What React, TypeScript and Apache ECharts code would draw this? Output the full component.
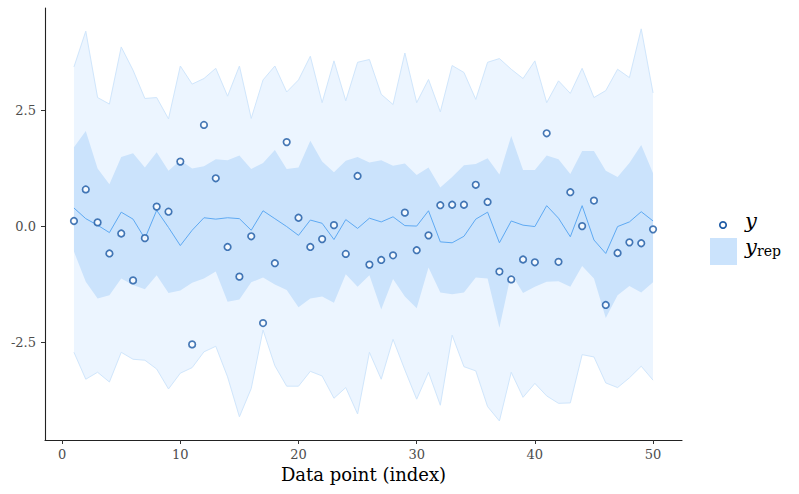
import React, { useEffect, useRef } from 'react';
import * as echarts from 'echarts';

// data point index 1..50
const idx = Array.from({ length: 50 }, (_, i) => i + 1);

// 90% interval of y_rep
const outerHi = [
  3.43, 4.2, 2.77, 2.63, 3.86, 3.36, 2.75, 2.77, 2.31, 3.45,
  3.06, 3.18, 3.4, 2.8, 3.45, 2.32, 3.15, 3.45, 2.89, 3.15,
  3.66, 2.66, 3.56, 2.7, 3.53, 3.59, 2.84, 2.62, 3.73, 2.66,
  3.16, 2.46, 3.46, 3.31, 2.73, 3.53, 3.61, 3.38, 3.18, 3.56,
  2.66, 3.13, 2.86, 3.4, 2.77, 2.92, 3.38, 3.2, 4.25, 2.87
];
const outerLo = [
  -2.72, -3.3, -3.15, -3.36, -2.72, -2.87, -2.89, -3.08, -3.51, -3.17,
  -3.05, -2.71, -2.59, -3.25, -4.11, -3.5, -2.24, -3.01, -3.45, -3.45,
  -3.13, -3.23, -3.71, -3.48, -4.05, -2.72, -3.3, -2.44, -3.1, -3.73,
  -3.15, -3.86, -2.35, -3.03, -3.12, -3.89, -4.2, -3.15, -3.69, -3.39,
  -3.66, -3.82, -3.81, -2.77, -2.82, -3.38, -3.48, -3.27, -3.02, -3.32
];

// 50% interval of y_rep
const innerHi = [
  1.7, 2.05, 1.24, 0.9, 1.49, 1.57, 1.26, 1.59, 1.19, 1.42,
  1.24, 1.29, 1.44, 1.42, 1.52, 1.23, 1.36, 1.64, 1.23, 1.26,
  1.84, 1.39, 1.16, 1.41, 1.49, 1.37, 1.42, 1.3, 1.35, 1.1,
  1.26, 0.83, 1.06, 1.31, 1.34, 1.46, 1.11, 1.94, 1.21, 1.21,
  1.52, 1.44, 1.12, 1.62, 1.62, 1.19, 1.06, 1.36, 1.75, 1.14
];
const innerLo = [
  -0.55, -1.2, -1.56, -1.49, -1.13, -1.27, -1.36, -1.06, -1.44, -1.39,
  -1.22, -1.13, -0.98, -1.63, -1.58, -1.21, -1.11, -1.26, -1.38, -1.75,
  -1.56, -1.52, -1.65, -1.04, -1.31, -1.06, -1.8, -1.14, -1.52, -1.77,
  -0.89, -1.43, -1.47, -1.43, -1.11, -1.13, -2.19, -1.02, -1.44, -1.31,
  -1.2, -1.19, -1.31, -0.86, -1.13, -1.98, -1.49, -1.29, -1.43, -1.21
];

// median of y_rep
const median = [
  0.39, 0.16, 0.02, -0.14, 0.3, 0.15, -0.27, 0.34, -0.03, -0.42,
  -0.09, 0.18, 0.15, 0.18, 0.16, -0.09, 0.33, 0.16, -0.01, -0.2,
  0.13, 0.06, -0.29, 0.14, -0.05, 0.17, 0.09, 0.2, 0.01, 0.0,
  0.33, -0.34, -0.36, -0.22, 0.15, 0.3, -0.36, 0.11, 0.02, -0.01,
  0.44, 0.17, -0.23, 0.44, -0.3, -0.59, -0.01, 0.09, 0.31, 0.11
];

// observed y
const yObs = [
  0.11, 0.79, 0.08, -0.59, -0.16, -1.17, -0.26, 0.42, 0.31, 1.39,
  -2.55, 2.18, 1.03, -0.45, -1.09, -0.22, -2.09, -0.8, 1.81, 0.18,
  -0.45, -0.28, 0.02, -0.6, 1.08, -0.83, -0.73, -0.63, 0.29, -0.52,
  -0.2, 0.45, 0.46, 0.46, 0.89, 0.52, -0.98, -1.15, -0.72, -0.78,
  2.0, -0.77, 0.73, 0.0, 0.55, -1.7, -0.58, -0.35, -0.37, -0.07
];

const xTicks = [0, 10, 20, 30, 40, 50];
const yTicks = [-2.5, 0, 2.5];

const SERIF = 'DejaVu Serif';
const OUTER_FILL = '#ecf5ff';
const OUTER_EDGE = '#d0e6fc';
const INNER_FILL = '#cbe3fc';
const MID_LINE = '#5ea9f2';
const DARK = '#1a58a3';

const pairs = (vals: number[]) => idx.map((x, i) => [x, vals[i]]);

// ribbon between lo and hi, drawn once as a polygon through the axes
const ribbon = (lo: number[], hi: number[], fill: string, edge: string | null) =>
  (params: any, api: any) => {
    if (params.dataIndex !== 0) return null;
    const top = idx.map((x, i) => api.coord([x, hi[i]]));
    const bottom = idx.map((x, i) => api.coord([x, lo[i]]));
    const children: any[] = [
      {
        type: 'polygon',
        shape: { points: top.concat(bottom.slice().reverse()) },
        style: { fill, stroke: null }
      }
    ];
    if (edge) {
      children.push(
        { type: 'polyline', shape: { points: top }, style: { stroke: edge, lineWidth: 1, fill: null } },
        { type: 'polyline', shape: { points: bottom }, style: { stroke: edge, lineWidth: 1, fill: null } }
      );
    }
    return { type: 'group', children };
  };

const App: React.FC = () => {
  const chartRef = useRef<HTMLDivElement>(null);

  useEffect(() => {
    if (!chartRef.current) return;
    const chart = echarts.init(chartRef.current, null, { renderer: 'svg' });

    const option: any = {
      animation: false,
      backgroundColor: '#ffffff',
      grid: { left: 45, right: 117, top: 8, bottom: 54, containLabel: false, outerBoundsMode: 'none' },
      xAxis: {
        type: 'value',
        min: -1.45,
        max: 52.45,
        name: 'Data point (index)',
        nameLocation: 'middle',
        nameGap: 22,
        nameTextStyle: { fontFamily: SERIF, fontSize: 18, color: '#000000' },
        axisLine: { show: true, onZero: false, lineStyle: { color: '#222222', width: 1.1 } },
        axisTick: { show: true, length: 4, customValues: xTicks, lineStyle: { color: '#333333' } },
        axisLabel: {
          customValues: xTicks,
          margin: 8,
          fontFamily: SERIF,
          fontSize: 13,
          color: '#4d4d4d'
        },
        splitLine: { show: false }
      },
      yAxis: {
        type: 'value',
        min: -4.61,
        max: 4.7,
        axisLine: { show: true, onZero: false, lineStyle: { color: '#222222', width: 1.1 } },
        axisTick: { show: true, length: 4, customValues: yTicks, lineStyle: { color: '#333333' } },
        axisLabel: {
          customValues: yTicks,
          margin: 9,
          fontFamily: SERIF,
          fontSize: 13,
          color: '#4d4d4d',
          formatter: (v: number) => v.toFixed(1)
        },
        splitLine: { show: false }
      },
      series: [
        {
          name: 'outer',
          type: 'custom',
          data: [[1, 0]],
          renderItem: ribbon(outerLo, outerHi, OUTER_FILL, OUTER_EDGE),
          silent: true,
          z: 1
        },
        {
          name: 'inner',
          type: 'custom',
          data: [[1, 0]],
          renderItem: ribbon(innerLo, innerHi, INNER_FILL, null),
          silent: true,
          z: 2
        },
        {
          name: 'median',
          type: 'line',
          data: pairs(median),
          symbol: 'none',
          lineStyle: { color: MID_LINE, width: 1 },
          silent: true,
          z: 3
        },
        {
          name: 'y',
          type: 'scatter',
          data: pairs(yObs),
          symbol: 'circle',
          symbolSize: 6.5,
          itemStyle: { color: '#ffffff', borderColor: DARK, borderWidth: 1.7 },
          silent: true,
          z: 4
        }
      ],
      graphic: [
        {
          type: 'circle',
          shape: { cx: 723, cy: 225, r: 3.2 },
          style: { fill: '#ffffff', stroke: DARK, lineWidth: 1.7 }
        },
        {
          type: 'text',
          x: 745,
          y: 221,
          style: { text: 'y', fontFamily: SERIF, fontStyle: 'italic', fontSize: 21, fill: '#000000', verticalAlign: 'middle' }
        },
        {
          type: 'rect',
          shape: { x: 710, y: 238, width: 27, height: 27 },
          style: { fill: INNER_FILL }
        },
        {
          type: 'text',
          x: 745,
          y: 247,
          style: { text: 'y', fontFamily: SERIF, fontStyle: 'italic', fontSize: 21, fill: '#000000', verticalAlign: 'middle' }
        },
        {
          type: 'text',
          x: 757,
          y: 251,
          style: { text: 'rep', fontFamily: SERIF, fontSize: 14, fill: '#000000', verticalAlign: 'middle' }
        }
      ]
    };

    chart.setOption(option);
    return () => chart.dispose();
  }, []);

  return (
    <div
      ref={chartRef}
      style={{ position: 'fixed', left: 0, top: 0, width: 799, height: 494, background: '#ffffff' }}
    />
  );
};

export default App;
